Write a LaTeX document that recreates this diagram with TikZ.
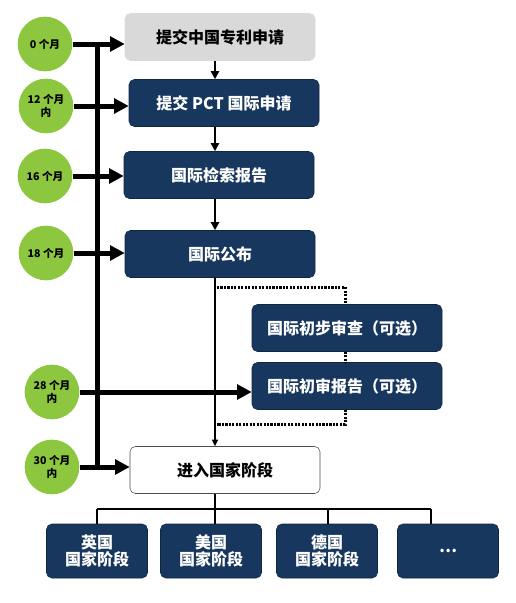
\documentclass[tikz,border=0pt]{standalone}
\usepackage{fontspec}
\setmainfont{Noto Sans CJK SC}
\usepackage{tikz}
\usetikzlibrary{positioning}
\usetikzlibrary{shapes,calc,arrows.meta}
\definecolor{navy}{HTML}{17375E}
\definecolor{leaf}{HTML}{8DC63F}
\definecolor{pale}{HTML}{D9D9D9}
\tikzset{
	x=0.75pt, y=-0.75pt,
	stage/.style = {rectangle, rounded corners=4pt, fill=navy, draw=navy!70!black,
		text=white, minimum width=142.5pt, minimum height=35.25pt,
		font=\bfseries\fontsize{12}{14}\selectfont},
	first/.style = {stage, fill=pale, draw=pale, text=black},
	entry/.style = {stage, fill=white, draw=black!70, thin, text=black},
	nation/.style = {stage, minimum width=75.75pt, minimum height=40.5pt,
		align=center, font=\bfseries\fontsize{12}{13}\selectfont},
	month/.style = {circle, fill=leaf, minimum size=41pt, inner sep=0pt,
		align=center, font=\bfseries\fontsize{8}{9.5}\selectfont},
	big/.style = {line width=3.75pt, -{Triangle[length=11pt,width=11pt]}},
	mid/.style = {line width=2.2pt, -{Triangle[length=6pt,width=6pt]}},
	slim/.style = {line width=1pt, -{Triangle[length=5pt,width=4.5pt]}},
	dots/.style = {line width=2.25pt, dash pattern=on 1.6pt off 1pt},
	tree/.style = {line width=2.2pt},
}
\begin{document}
\begin{tikzpicture}
	\useasboundingbox (0,0) rectangle (516,603);
	% stages
	\node (cn)   [first]  at (220,37)  {提交中国专利申请};
	\node (pct)  [stage]  at (224,103) {提交 PCT 国际申请};
	\node (isr)  [stage]  at (219,175) {国际检索报告};
	\node (pub)  [stage]  at (220,254) {国际公布};
	\node (ipe)  [stage]  at (347,328) {国际初步审查（可选）};
	\node (iper) [stage]  at (347,386) {国际初审报告（可选）};
	\node (nat)  [entry]  at (225,470) {进入国家阶段};
	\node (uk)   [nation] at (97,551)  {英国\\国家阶段};
	\node (us)   [nation] at (211,551) {美国\\国家阶段};
	\node (de)   [nation] at (327,551) {德国\\国家阶段};
	\node (more) [nation] at (448,551) {…};
	% months
	\node (m0)  [month] at (45,44)  {0 个月};
	\node (m12) [month] at (46,106) {12 个月\\内};
	\node (m16) [month] at (45,176) {16 个月};
	\node (m18) [month] at (46,253) {18 个月};
	\node (m28) [month] at (52,392) {28 个月\\内};
	\node (m30) [month] at (52,467) {30 个月\\内};
	\coordinate (bar) at (97,0);
	\coordinate (col) at (215,0);
	\coordinate (opt) at (345,0);
	\coordinate (fork) at (0,509);
	% time line
	\draw[line width=3.75pt] (m0 -| bar) -- (m30 -| bar);
	\foreach \m/\s in {m0/cn, m12/pct, m16/isr, m18/pub, m28/iper, m30/nat}
		\draw[big] (\m.east) -- (\m -| \s.west);
	% main flow
	\draw[mid] (cn.south -| col) -- (pct.north -| col);
	\draw[mid] (pct.south -| col) -- (isr.north -| col);
	\draw[mid] (isr.south -| col) -- (pub.north -| col);
	\draw[slim] (pub.south -| col) -- (nat.north -| col);
	% optional branch
	\draw[dots] ($(col)+(2,287)$) -- ($(opt)+(0,287)$) -- (ipe.north -| opt);
	\draw[dots] (ipe.south -| opt) -- (iper.north -| opt);
	\draw[dots] (iper.south -| opt) -- ($(opt)+(0,424)$) -- ($(col)+(2,424)$);
	% countries
	\draw[tree] (nat.south -| col) -- (fork -| col);
	\draw[tree] (fork -| uk) -- (fork -| 431,0);
	\foreach \c/\x in {uk/97, us/215, de/328, more/431}
		\draw[tree] (fork -| \x,0) -- (\c.north -| \x,0);
\end{tikzpicture}
\end{document}
